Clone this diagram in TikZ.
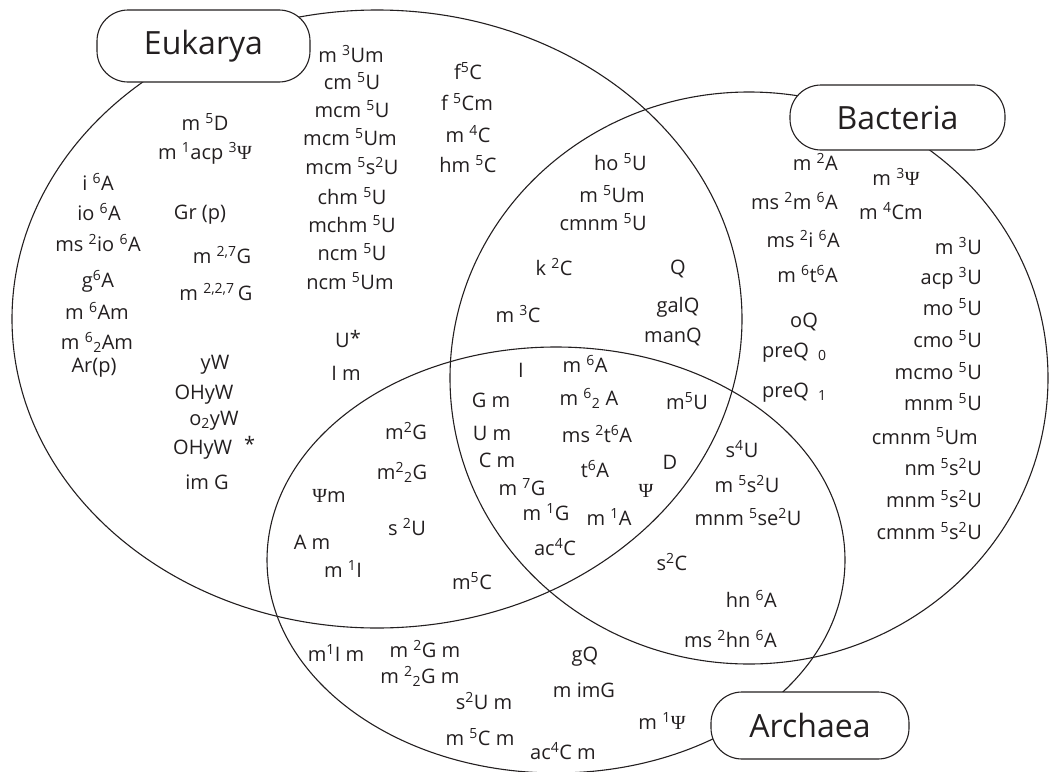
\documentclass[tikz,border=0pt]{standalone}
\usepackage{fontspec}
\setmainfont{Open Sans}
\newfontfamily\grk{Liberation Serif}
\definecolor{ink}{RGB}{35,31,32}
\newcommand\Up[1]{\textsuperscript{#1}}
\newcommand\Dn[1]{\textsubscript{#1}}
\newcommand\Ps{{\grk Ψ}}
\tikzset{
  lab/.style={font=\fontsize{20}{20}\selectfont, inner sep=0pt, anchor=mid, text=ink},
  labr/.style={lab, anchor=mid east},
  labl/.style={lab, anchor=mid west},
  ring/.style={draw=ink, line width=1.1pt},
  kingdom/.style={draw=ink, fill=white, line width=1.1pt, rounded corners=31pt, inner sep=0pt, font=\fontsize{32}{32}\selectfont, text=ink}
}
\begin{document}
\begin{tikzpicture}[x=1pt,y=-1pt]
\useasboundingbox (0,0) rectangle (1049,771);
% circles
\draw[ring] (377,319) ellipse [x radius=365, y radius=309];
\draw[ring] (749,378) ellipse [x radius=299, y radius=286];
\draw[ring] (556,560) ellipse [x radius=289, y radius=213];
% kingdom labels
\node[kingdom, minimum width=213pt, minimum height=72pt] (euk) at (203.5,46) {Eukarya};
\node[kingdom, minimum width=215pt, minimum height=65pt] (bac) at (897.5,117.5) {Bacteria};
\node[kingdom, minimum width=198pt, minimum height=67pt] (arc) at (810,725.5) {Archaea};
% Eukarya only
\node[lab] (e1) at (205,128) {m \Up{5}D};
\node[lab] (e2) at (205,157) {m \Up{1}acp \Up{3}\Ps};
\node[lab] (e3) at (98,188) {i \Up{6}A};
\node[lab] (e4) at (99,218) {io \Up{6}A};
\node[lab] (e5) at (200,217) {Gr (p)};
\node[lab] (e6) at (98,249) {ms \Up{2}io \Up{6}A};
\node[lab] (e7) at (222,261) {m \Up{2,7}G};
\node[lab] (e8) at (98,285) {g\Up{6}A};
\node[lab] (e9) at (216,298) {m \Up{2,2,7}\,G};
\node[lab] (e10) at (97,317) {m \Up{6}Am};
\node[lab] (e11) at (97,347) {m \Up{6}\Dn{2}Am};
\node[lab] (e12) at (94,370) {Ar(p)};
\node[lab] (e13) at (215,367) {yW};
\node[lab] (e14) at (204,397) {OHyW};
\node[lab] (e15) at (214,423) {o\Dn{2}yW};
\node[labl] (e16) at (173,452) {OHyW\hspace{12pt}\raisebox{3pt}{*}};
\node[lab] (e17) at (207,487) {im G};
\node[lab] (e18) at (351,60) {m \Up{3}Um};
\node[lab] (e19) at (352,87) {cm \Up{5}U};
\node[lab] (e20) at (352,115) {mcm \Up{5}U};
\node[lab] (e21) at (350,143) {mcm \Up{5}Um};
\node[lab] (e22) at (352,172) {mcm \Up{5}s\Up{2}U};
\node[lab] (e23) at (352,202) {chm \Up{5}U};
\node[lab] (e24) at (352,230) {mchm \Up{5}U};
\node[lab] (e25) at (352,258) {ncm \Up{5}U};
\node[lab] (e26) at (350,287) {ncm \Up{5}Um};
\node[lab] (e27) at (468,77) {f\Up{5}C};
\node[lab] (e28) at (467,108) {f \Up{5}Cm};
\node[lab] (e29) at (468,140) {m \Up{4}C};
\node[lab] (e30) at (468,170) {hm \Up{5}C};
\node[lab] (e31) at (348,345) {U\raisebox{2pt}{*}};
\node[lab] (e32) at (346,378) {I m};
% Eukarya and Bacteria
\node[labr] (eb1) at (647,168) {ho \Up{5}U};
\node[labr] (eb2) at (645,200) {m \Up{5}Um};
\node[labr] (eb3) at (647,228) {cmnm \Up{5}U};
\node[lab] (eb4) at (554,273) {k \Up{2}C};
\node[lab] (eb5) at (678,272) {Q};
\node[lab] (eb6) at (678,310) {galQ};
\node[lab] (eb7) at (673,340) {manQ};
\node[lab] (eb8) at (518,320) {m \Up{3}C};
% all three
\node[lab] (a1) at (521,375) {I};
\node[lab] (a2) at (585,370) {m \Up{6}A};
\node[lab] (a3) at (491,405) {G m};
\node[lab] (a4) at (589,403) {m \Up{6}\Dn{2} A};
\node[lab] (a5) at (687,407) {m\Up{5}U};
\node[lab] (a6) at (492,438) {U m};
\node[lab] (a7) at (597,440) {ms \Up{2}t\Up{6}A};
\node[lab] (a8) at (497,465) {C m};
\node[lab] (a9) at (595,475) {t\Up{6}A};
\node[lab] (a10) at (670,467) {D};
\node[lab] (a11) at (522,493) {m \Up{7}G};
\node[lab] (a12) at (646,495) {\Ps};
\node[lab] (a13) at (546,518) {m \Up{1}G};
\node[lab] (a14) at (609,523) {m \Up{1}A};
\node[lab] (a15) at (555,553) {ac\Up{4}C};
% Eukarya and Archaea
\node[lab] (ea1) at (406,437) {m\Up{2}G};
\node[lab] (ea2) at (402,477) {m\Up{2}\Dn{2}G};
\node[lab] (ea3) at (329,500) {\Ps m};
\node[lab] (ea4) at (407,533) {s \Up{2}U};
\node[lab] (ea5) at (312,547) {A m};
\node[lab] (ea6) at (343,575) {m \Up{1}I};
\node[lab] (ea7) at (472,587) {m\Up{5}C};
% Bacteria and Archaea
\node[lab] (ba1) at (742,455) {s\Up{4}U};
\node[lab] (ba2) at (747,490) {m \Up{5}s\Up{2}U};
\node[lab] (ba3) at (748,523) {mnm \Up{5}se\Up{2}U};
\node[lab] (ba4) at (672,568) {s\Up{2}C};
\node[labr] (ba5) at (777,605) {hn \Up{6}A};
\node[labr] (ba6) at (777,645) {ms \Up{2}hn \Up{6}A};
% Archaea only
\node[lab] (r1) at (336,659) {m\Up{1}I m};
\node[lab] (r2) at (425,655) {m \Up{2}G m};
\node[lab] (r3) at (420,681) {m \Up{2}\Dn{2}G m};
\node[lab] (r4) at (484,707) {s\Up{2}U m};
\node[lab] (r5) at (480,743) {m \Up{5}C m};
\node[lab] (r6) at (563,757) {ac\Up{4}C m};
\node[lab] (r7) at (585,659) {gQ};
\node[lab] (r8) at (584,695) {m imG};
\node[lab] (r9) at (662,727) {m \Up{1}\Ps};
% Bacteria only
\node[labr] (b1) at (838,168) {m \Up{2}A};
\node[lab] (b2) at (896,183) {m \Up{3}\Ps};
\node[labr] (b3) at (838,207) {ms \Up{2}m \Up{6}A};
\node[lab] (b4) at (891,217) {m \Up{4}Cm};
\node[labr] (b5) at (840,245) {ms \Up{2}i \Up{6}A};
\node[labr] (b6) at (982,252) {m \Up{3}U};
\node[labr] (b7) at (838,280) {m \Up{6}t\Up{6}A};
\node[labr] (b8) at (982,282) {acp \Up{3}U};
\node[lab] (b9) at (804,325) {oQ};
\node[labr] (b10) at (982,313) {mo \Up{5}U};
\node[labr] (b11) at (982,345) {cmo \Up{5}U};
\node[labl] (b12) at (762,355) {preQ\hspace{9pt}\Dn{0}};
\node[labl] (b13) at (762,395) {preQ\hspace{9pt}\Dn{1}};
\node[labr] (b14) at (982,377) {mcmo \Up{5}U};
\node[labr] (b15) at (982,408) {mnm \Up{5}U};
\node[labr] (b16) at (978,442) {cmnm \Up{5}Um};
\node[labr] (b17) at (982,473) {nm \Up{5}s\Up{2}U};
\node[labr] (b18) at (982,505) {mnm \Up{5}s\Up{2}U};
\node[labr] (b19) at (982,537) {cmnm \Up{5}s\Up{2}U};
\end{tikzpicture}
\end{document}
